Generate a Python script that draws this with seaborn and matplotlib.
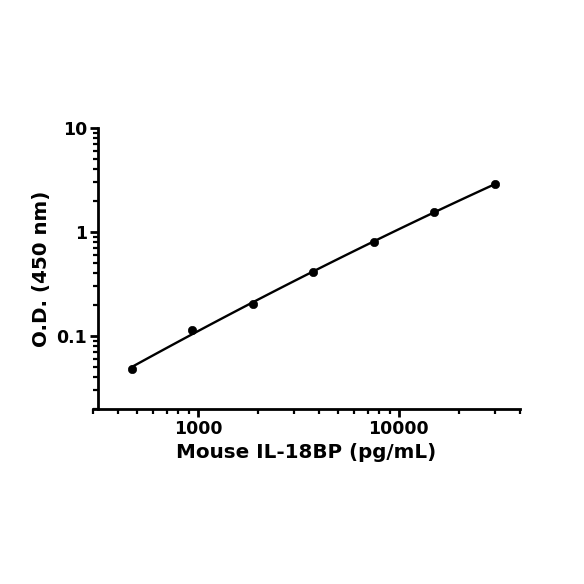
import numpy as np
import pandas as pd
import seaborn as sns
import matplotlib.pyplot as plt
from matplotlib.ticker import LogLocator, FixedLocator, NullFormatter

# standard curve values
conc = [468.75, 937.5, 1875, 3750, 7500, 15000, 30000]
od = [0.048, 0.115, 0.205, 0.41, 0.80, 1.55, 2.90]
x_ticks = [1000, 10000]
y_ticks = [0.1, 1, 10]

df = pd.DataFrame({'conc': conc, 'od': od})

# smooth curve fit in log-log space between the end standards
coef = np.polyfit(np.log10(df['conc']), np.log10(df['od']), 2)
xs = np.logspace(np.log10(conc[0]), np.log10(conc[-1]), 100)
fit = pd.DataFrame({'conc': xs, 'od': 10 ** np.polyval(coef, np.log10(xs))})

sns.set_style('ticks')
plt.rcParams['font.family'] = ['DejaVu Sans']
plt.rcParams['text.color'] = 'black'
plt.rcParams['axes.labelcolor'] = 'black'
plt.rcParams['xtick.color'] = 'black'
plt.rcParams['ytick.color'] = 'black'

fig = plt.figure(figsize=(5.84, 5.84), dpi=100)
ax = fig.add_axes([0.159, 0.300, 0.731, 0.481])

sns.lineplot(data=fit, x='conc', y='od', ax=ax, color='black', linewidth=1.7)
sns.scatterplot(data=df, x='conc', y='od', ax=ax, color='black', s=36, edgecolor='black', zorder=3)

ax.set_xscale('log')
ax.set_yscale('log')
ax.set_xlim(300, 40000)
ax.set_ylim(0.02, 10)

ax.xaxis.set_major_locator(FixedLocator(x_ticks))
ax.xaxis.set_major_formatter(plt.FuncFormatter(lambda v, p: f'{int(v)}'))
ax.xaxis.set_minor_locator(LogLocator(base=10, subs=np.arange(2, 10)))
ax.xaxis.set_minor_formatter(NullFormatter())
ax.yaxis.set_major_locator(FixedLocator(y_ticks))
ax.yaxis.set_major_formatter(plt.FuncFormatter(lambda v, p: f'{v:g}'))
ax.yaxis.set_minor_locator(LogLocator(base=10, subs=np.arange(2, 10)))
ax.yaxis.set_minor_formatter(NullFormatter())

for side in ['top', 'right']:
    ax.spines[side].set_visible(False)
ax.spines['left'].set_position(('axes', 0.012))
for side in ['left', 'bottom']:
    ax.spines[side].set_linewidth(2)
    ax.spines[side].set_color('black')

ax.tick_params(which='major', length=6, width=2, colors='black', labelsize=12.5, pad=2)
ax.tick_params(which='minor', length=3.5, width=1.6, color='black')
for lab in ax.get_xticklabels() + ax.get_yticklabels():
    lab.set_fontweight('bold')

ax.set_xlabel('Mouse IL-18BP (pg/mL)', fontsize=14.3, fontweight='bold', labelpad=4)
ax.set_ylabel('O.D. (450 nm)', fontsize=14.3, fontweight='bold', labelpad=4)

fig.savefig('out.png', dpi=100, facecolor='white')
